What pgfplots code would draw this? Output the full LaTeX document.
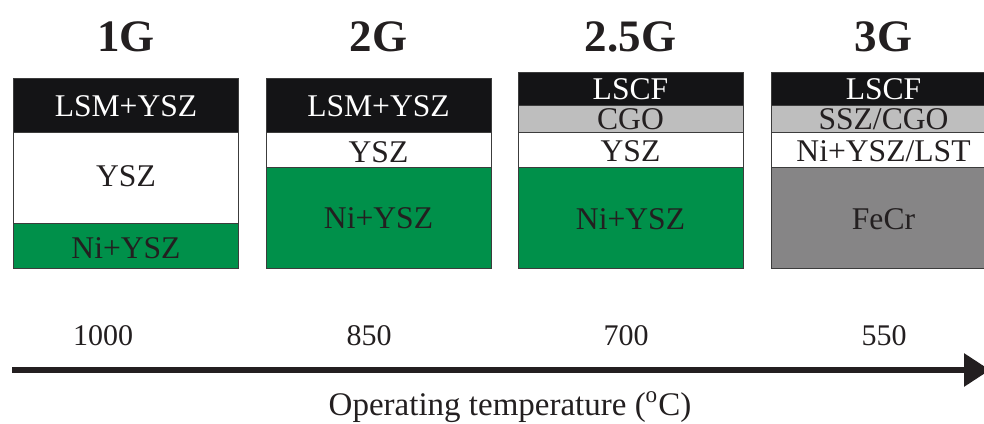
\documentclass[border=0pt]{standalone}
\usepackage{pgfplots}
\pgfplotsset{compat=1.18}
\usepackage{fontspec}
\setmainfont{Liberation Serif}
\usetikzlibrary{arrows.meta}
\definecolor{cblack}{HTML}{141416}
\definecolor{cgreen}{HTML}{00904A}
\definecolor{clgrey}{HTML}{BEBEBE}
\definecolor{cdgrey}{HTML}{868586}
\definecolor{ctext}{HTML}{231F20}
\definecolor{cborder}{HTML}{3C3C3C}
\tikzset{
  lay/.style={font=\fontsize{15.8}{18}\selectfont, text=ctext, inner sep=0pt},
  num/.style={font=\fontsize{15}{18}\selectfont, text=ctext, inner sep=0pt},
  lbl/.style={font=\fontsize{16.5}{19}\selectfont, text=ctext, inner sep=0pt},
  ttl/.style={font=\fontsize{22.5}{26}\selectfont\bfseries, text=ctext, inner sep=0pt},
}
\begin{document}
\begin{tikzpicture}
\begin{axis}[
  width=492pt, height=211.5pt, scale only axis,
  xmin=0, xmax=984, ymin=-154, ymax=269,
  hide axis, set layers,
  ybar stacked, bar width=225,
  every axis plot/.append style={draw=cborder, line width=0.5pt, on layer=axis background},
]
% bottom to top: anode support (green), FeCr, electrolyte/anode (white), barrier (light grey), cathode (black)
\addplot[fill=cgreen] coordinates {(126,45) (378.5,101) (630.5,101) (883.5,0)};
\addplot[fill=cdgrey] coordinates {(126,0) (378.5,0) (630.5,0) (883.5,101)};
\addplot[fill=white] coordinates {(126,91) (378.5,35) (630.5,35) (883.5,35)};
\addplot[fill=clgrey] coordinates {(126,0) (378.5,0) (630.5,27) (883.5,27)};
\addplot[fill=cblack] coordinates {(126,54) (378.5,54) (630.5,33) (883.5,33)};

% titles
\node[ttl] at (axis cs:126,232) {1G};
\node[ttl] at (axis cs:378.5,232) {2G};
\node[ttl] at (axis cs:630.5,232) {2.5G};
\node[ttl] at (axis cs:883.5,232) {3G};

% 1G
\node[lay,text=white] at (axis cs:126,163) {LSM+YSZ};
\node[lay] at (axis cs:126,93) {YSZ};
\node[lay] at (axis cs:126,21) {Ni+YSZ};
% 2G
\node[lay,text=white] at (axis cs:378.5,163) {LSM+YSZ};
\node[lay] at (axis cs:378.5,117) {YSZ};
\node[lay] at (axis cs:378.5,51) {Ni+YSZ};
% 2.5G
\node[lay,text=white] at (axis cs:630.5,180) {LSCF};
\node[lay] at (axis cs:630.5,150) {CGO};
\node[lay] at (axis cs:630.5,118) {YSZ};
\node[lay] at (axis cs:630.5,50) {Ni+YSZ};
% 3G
\node[lay,text=white] at (axis cs:883.5,180) {LSCF};
\node[lay] at (axis cs:883.5,150) {SSZ/CGO};
\node[lay] at (axis cs:883.5,118) {Ni+YSZ/LST};
\node[lay] at (axis cs:883.5,50) {FeCr};

% temperatures
\node[num] at (axis cs:103,-67) {1000};
\node[num] at (axis cs:369,-67) {850};
\node[num] at (axis cs:626,-67) {700};
\node[num] at (axis cs:884,-67) {550};

% arrow
\draw[ctext, line width=3pt, -{Triangle[length=13pt,width=16pt]}] (axis cs:12,-101) -- (axis cs:990,-101);

\node[lbl] at (axis cs:510,-138) {Operating temperature (\textsuperscript{o}C)};
\end{axis}
\pgfresetboundingbox
\useasboundingbox (current axis.south west) rectangle (current axis.north east);
\end{tikzpicture}
\end{document}
